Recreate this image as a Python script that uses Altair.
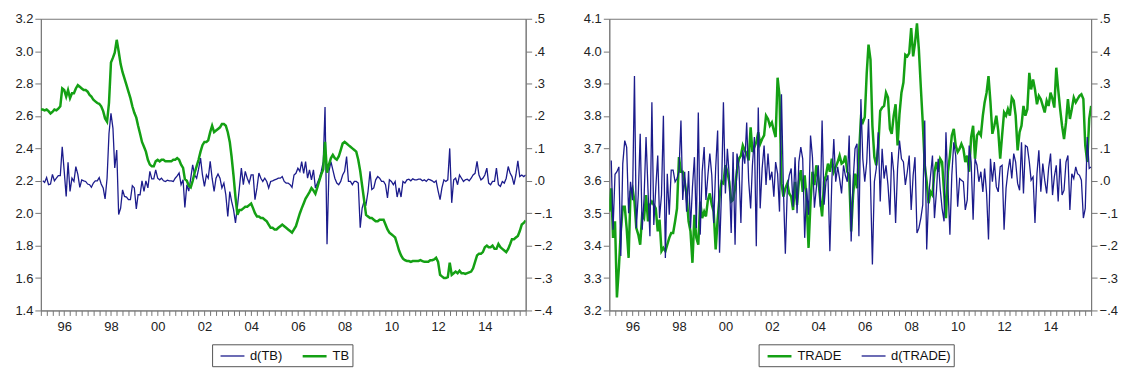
import altair as alt
import pandas as pd

# ---------------- data (monthly) ----------------
START = "1995-01-01"

TB = [2.64, 2.64, 2.635, 2.64, 2.63, 2.615, 2.625, 2.64, 2.635, 2.645,
      2.66, 2.77, 2.76, 2.72, 2.76, 2.71, 2.74, 2.74, 2.77, 2.79,
      2.78, 2.77, 2.76, 2.76, 2.75, 2.73, 2.72, 2.70, 2.69, 2.68,
      2.675, 2.66, 2.63, 2.585, 2.565, 2.68, 2.93, 2.96, 2.99, 3.07,
      3.00, 2.92, 2.87, 2.83, 2.79, 2.75, 2.71, 2.66, 2.62, 2.59,
      2.54, 2.49, 2.44, 2.41, 2.38, 2.33, 2.30, 2.29, 2.29, 2.32,
      2.33, 2.32, 2.33, 2.33, 2.32, 2.32, 2.32, 2.32, 2.33, 2.33,
      2.34, 2.33, 2.30, 2.28, 2.21, 2.20, 2.17, 2.16, 2.20, 2.25,
      2.29, 2.33, 2.38, 2.42, 2.44, 2.44, 2.45, 2.50, 2.54, 2.50,
      2.51, 2.52, 2.53, 2.55, 2.55, 2.54, 2.50, 2.44, 2.35, 2.23,
      2.10, 1.99, 2.02, 2.02, 2.03, 2.04, 2.04, 2.05, 2.06, 2.03,
      2.00, 1.98, 1.98, 1.97, 1.97, 1.96, 1.95, 1.93, 1.91, 1.91,
      1.90, 1.90, 1.91, 1.92, 1.93, 1.92, 1.91, 1.90, 1.89, 1.88,
      1.90, 1.92, 1.96, 2.00, 2.03, 2.06, 2.09, 2.11, 2.13, 2.155,
      2.14, 2.12, 2.16, 2.20, 2.24, 2.27, 2.44, 2.25, 2.30, 2.34,
      2.36, 2.34, 2.33, 2.35, 2.39, 2.43, 2.44, 2.43, 2.42, 2.41,
      2.40, 2.39, 2.38, 2.33, 2.26, 2.17, 2.08, 1.99, 1.98, 1.97,
      1.97, 1.96, 1.95, 1.95, 1.96, 1.96, 1.96, 1.93, 1.90, 1.88,
      1.87, 1.86, 1.85, 1.81, 1.77, 1.74, 1.72, 1.71, 1.705, 1.705,
      1.70, 1.705, 1.705, 1.705, 1.705, 1.71, 1.705, 1.70, 1.70, 1.70,
      1.71, 1.71, 1.715, 1.725, 1.70, 1.62, 1.61, 1.60, 1.60, 1.605,
      1.695, 1.62, 1.63, 1.64, 1.63, 1.645, 1.63, 1.63, 1.625, 1.63,
      1.635, 1.64, 1.66, 1.70, 1.74, 1.75, 1.75, 1.76, 1.79, 1.80,
      1.79, 1.79, 1.80, 1.78, 1.78, 1.81, 1.79, 1.78, 1.77, 1.76,
      1.78, 1.81, 1.84, 1.84, 1.85, 1.86, 1.89, 1.93, 1.94, 1.955]

D_TB = [0.0, -0.005, 0.01, -0.012, -0.01, 0.02, 0.0, 0.008, 0.016, 0.016,
        0.105, 0.03, -0.048, 0.057, -0.033, 0.008, -0.002, 0.044, 0.02, -0.02,
        0.003, 0.0, -0.002, -0.01, -0.012, -0.02, -0.007, 0.0, 0.0, 0.01,
        -0.01, -0.022, -0.056, 0.008, 0.146, 0.208, 0.162, 0.04, 0.095, -0.104,
        -0.084, -0.028, -0.048, -0.05, -0.058, -0.058, -0.015, -0.022, -0.087, -0.043,
        -0.043, 0.0, -0.033, 0.0, -0.022, 0.029, 0.006, 0.006, 0.034, 0.008,
        0.003, 0.008, 0.0, -0.002, 0.002, 0.0, 0.0, -0.002, 0.008, 0.015,
        0.024, -0.012, 0.003, -0.082, -0.012, -0.032, 0.008, 0.049, 0.018, 0.008,
        0.036, 0.07, 0.018, -0.017, 0.018, 0.008, 0.06, 0.008, -0.033, 0.008,
        0.021, 0.008, -0.022, -0.007, -0.043, -0.11, -0.033, -0.063, -0.089, -0.13,
        -0.079, -0.022, 0.039, -0.012, 0.029, 0.008, -0.007, 0.018, 0.018, -0.058,
        -0.022, 0.024, 0.008, -0.002, 0.008, -0.002, -0.022, -0.002, 0.0, 0.003,
        0.005, 0.008, 0.008, 0.013, -0.002, -0.007, -0.007, -0.012, -0.02, 0.018,
        0.023, 0.039, 0.029, 0.059, 0.023, 0.059, 0.008, 0.034, 0.003, 0.034,
        -0.022, -0.007, 0.008, 0.029, 0.059, 0.228, -0.196, 0.029, 0.059, 0.034,
        0.008, -0.007, -0.012, -0.002, 0.018, 0.029, 0.075, -0.002, -0.002, -0.012,
        -0.002, -0.002, -0.007, -0.145, -0.084, -0.063, -0.073, -0.033, 0.029, -0.027,
        -0.022, 0.003, 0.013, 0.008, -0.002, -0.002, -0.012, -0.053, 0.003, -0.002,
        -0.012, -0.002, -0.05, -0.022, -0.05, -0.002, -0.007, 0.003, 0.005, 0.0,
        0.006, 0.003, 0.003, 0.005, 0.005, 0.0, 0.003, -0.002, 0.005, 0.003,
        0.0, -0.005, 0.0, -0.031, -0.058, -0.022, 0.003, -0.002, 0.003, 0.1,
        -0.068, 0.003, 0.008, -0.012, 0.018, 0.008, -0.002, 0.003, 0.005, 0.0,
        0.008, 0.018, 0.023, 0.06, 0.018, 0.003, 0.008, 0.018, 0.039, -0.007,
        -0.012, -0.002, -0.002, 0.039, -0.012, -0.017, -0.002, -0.007, 0.008, 0.044,
        0.023, 0.013, -0.012, 0.018, 0.062, 0.013, 0.018, 0.013, 0.018]

TRADE = [3.505, 3.577, 3.424, 3.475, 3.24, 3.332, 3.444, 3.52, 3.52, 3.454,
         3.362, 3.566, 3.577, 3.536, 3.454, 3.434, 3.403, 3.495, 3.485, 3.556,
         3.475, 3.526, 3.536, 3.526, 3.515, 3.444, 3.48, 3.383, 3.393, 3.383,
         3.403, 3.424, 3.439, 3.439, 3.475, 3.515, 3.673, 3.628, 3.628, 3.597,
         3.556, 3.475, 3.444, 3.347, 3.495, 3.424, 3.403, 3.536, 3.485, 3.505,
         3.49, 3.541, 3.561, 3.526, 3.505, 3.388, 3.48, 3.551, 3.597, 3.592,
         3.648, 3.628, 3.597, 3.536, 3.541, 3.577, 3.633, 3.668, 3.678, 3.709,
         3.694, 3.684, 3.663, 3.765, 3.689, 3.704, 3.719, 3.75, 3.714, 3.729,
         3.74, 3.801, 3.791, 3.77, 3.78, 3.755, 3.735, 3.918, 3.862, 3.592,
         3.551, 3.577, 3.592, 3.561, 3.551, 3.51, 3.597, 3.526, 3.597, 3.633,
         3.566, 3.617, 3.541, 3.393, 3.536, 3.628, 3.587, 3.648, 3.607, 3.541,
         3.49, 3.597, 3.617, 3.653, 3.628, 3.668, 3.628, 3.643, 3.658, 3.678,
         3.653, 3.658, 3.678, 3.628, 3.617, 3.444, 3.556, 3.622, 3.577, 3.678,
         3.791, 3.78, 3.796, 3.933, 4.02, 3.974, 3.77, 3.673, 3.648, 3.704,
         3.816, 3.826, 3.831, 3.872, 3.857, 3.76, 3.745, 3.801, 3.836, 3.709,
         3.806, 3.872, 3.903, 3.989, 3.984, 3.994, 4.071, 3.984, 4.025, 4.086,
         4.005, 3.887, 3.78, 3.648, 3.597, 3.531, 3.566, 3.556, 3.628, 3.658,
         3.628, 3.668, 3.658, 3.566, 3.485, 3.628, 3.678, 3.74, 3.76, 3.709,
         3.689, 3.699, 3.714, 3.699, 3.658, 3.678, 3.628, 3.735, 3.77, 3.668,
         3.74, 3.75, 3.74, 3.801, 3.842, 3.872, 3.923, 3.842, 3.745, 3.77,
         3.801, 3.755, 3.668, 3.74, 3.811, 3.801, 3.821, 3.801, 3.857, 3.847,
         3.801, 3.694, 3.75, 3.77, 3.831, 3.801, 3.821, 3.933, 3.882, 3.913,
         3.882, 3.836, 3.862, 3.852, 3.831, 3.811, 3.847, 3.831, 3.872, 3.852,
         3.826, 3.949, 3.882, 3.821, 3.77, 3.729, 3.78, 3.852, 3.791, 3.821,
         3.857, 3.842, 3.852, 3.862, 3.867, 3.852, 3.709, 3.658, 3.791, 3.831]

D_TRADE = [0.063, -0.151, 0.02, 0.028, 0.043, -0.232, 0.053, 0.124, 0.104, -0.1,
           -0.003, -0.06, 0.323, -0.146, -0.044, 0.145, -0.151, -0.054, 0.135, -0.03,
           -0.171, 0.242, -0.136, -0.023, 0.078, -0.115, -0.044, 0.201, -0.238, 0.022,
           -0.105, 0.033, 0.033, -0.003, 0.007, 0.028, 0.186, -0.059, 0.028, -0.095,
           0.03, -0.146, -0.02, 0.073, -0.146, 0.211, -0.166, 0.028, 0.104, -0.059,
           0.017, 0.084, 0.017, -0.13, 0.038, 0.155, -0.222, -0.034, 0.242, -0.039,
           0.099, 0.017, -0.161, 0.089, -0.197, 0.084, 0.043, -0.13, 0.094, 0.053,
           0.18, 0.0, -0.085, 0.048, 0.135, -0.202, 0.226, -0.085, 0.038, 0.109,
           -0.013, 0.084, 0.002, 0.028, -0.049, 0.058, 0.022, -0.095, 0.267, -0.023,
           -0.225, -0.023, 0.017, 0.038, -0.08, 0.073, -0.1, 0.058, 0.104, 0.068,
           -0.176, -0.023, -0.105, 0.14, 0.073, -0.083, -0.023, 0.048, -0.08, 0.186,
           -0.074, -0.003, 0.017, -0.217, 0.002, 0.129, -0.003, 0.043, 0.007, -0.039,
           0.048, 0.017, -0.003, 0.14, -0.187, -0.003, 0.099, 0.114, -0.171, 0.252,
           0.068, -0.003, 0.058, 0.191, -0.003, -0.258, -0.003, 0.038, 0.15, -0.064,
           0.099, 0.007, 0.048, -0.013, -0.105, 0.089, 0.028, -0.13, 0.038, 0.124,
           0.068, 0.058, -0.013, 0.028, 0.078, -0.09, 0.017, 0.073, -0.161, -0.146,
           -0.115, -0.074, 0.186, -0.212, -0.049, 0.017, 0.078, -0.115, -0.034, 0.068,
           -0.023, -0.085, -0.125, 0.15, -0.018, -0.166, 0.017, 0.119, 0.078, -0.08,
           0.007, 0.002, -0.003, -0.09, -0.059, 0.109, 0.058, -0.12, 0.068, 0.048,
           -0.003, 0.028, -0.034, 0.038, -0.039, -0.181, 0.068, -0.003, 0.058, -0.018,
           -0.034, 0.043, 0.048, -0.151, -0.023, 0.028, 0.068, 0.007, 0.084, 0.058,
           -0.008, -0.029, 0.119, -0.039, 0.109, 0.104, 0.058, 0.002, 0.012, -0.13,
           0.022, 0.094, -0.034, 0.053, 0.002, -0.039, 0.038, 0.084, -0.044, 0.012,
           0.048, -0.064, 0.068, -0.044, -0.029, 0.058, 0.078, -0.09, 0.022, 0.007,
           0.043, 0.022, 0.017, 0.002, -0.115, -0.085, 0.135, 0.038, 0.043]

LEFT_TICKS_TB = [1.4, 1.6, 1.8, 2.0, 2.2, 2.4, 2.6, 2.8, 3.0, 3.2]
LEFT_TICKS_TRADE = [3.2, 3.3, 3.4, 3.5, 3.6, 3.7, 3.8, 3.9, 4.0, 4.1]
RIGHT_TICKS = [-0.4, -0.3, -0.2, -0.1, 0.0, 0.1, 0.2, 0.3, 0.4, 0.5]

GREEN = "#14a014"
BLUE = "#1c1c8c"
FONT = "Liberation Sans"


def frame(values, name, start):
    return pd.DataFrame({
        "date": pd.date_range(start, periods=len(values), freq="MS"),
        "value": values,
        "series": name,
    })


x_ticks = [alt.DateTime(year=y, month=m, date=1)
           for y in range(1995, 2016) for m in (1, 4, 7, 10)]
x_enc = alt.X(
    "date:T",
    scale=alt.Scale(domain=[alt.DateTime(year=1995, month=1, date=1),
                            alt.DateTime(year=2015, month=10, date=1)]),
    axis=alt.Axis(values=x_ticks, title=None, tickSize=5, labelPadding=5,
                  labelOverlap=False, grid=False,
                  labelExpr="month(datum.value) == 0 && year(datum.value) % 2 == 0 ? timeFormat(datum.value, '%y') : ''"),
)


def panel(level, level_name, level_dom, level_ticks, diff, diff_name, order,
          width, height, lx, ly):
    legend = alt.Legend(orient="none", legendX=lx, legendY=ly, direction="horizontal",
                        title=None, symbolType="M-1.6,0H1.6", symbolSize=225,
                        labelFontSize=13, labelFont=FONT, labelColor="#111",
                        labelOffset=9, symbolOffset=9,
                        strokeColor="#555", padding=3, columnPadding=14)
    colors = [GREEN if s == level_name else BLUE for s in order]
    widths = [2.5 if s == level_name else 1.3 for s in order]
    color = alt.Color("series:N", scale=alt.Scale(domain=order, range=colors), legend=legend)
    sw = alt.StrokeWidth("series:N", scale=alt.Scale(domain=order, range=widths), legend=legend)

    lvl = alt.Chart(frame(level, level_name, START)).mark_line(clip=True).encode(
        x=x_enc,
        y=alt.Y("value:Q", scale=alt.Scale(domain=level_dom, nice=False, zero=False),
                axis=alt.Axis(orient="left", values=level_ticks, format=".1f",
                              title=None, tickSize=6, labelPadding=2, grid=False)),
        color=color, strokeWidth=sw,
    )
    dif = alt.Chart(frame(diff, diff_name, "1995-02-01")).mark_line(clip=True).encode(
        x=x_enc,
        y=alt.Y("value:Q", scale=alt.Scale(domain=[-0.4, 0.5], nice=False, zero=False),
                axis=alt.Axis(orient="right", values=RIGHT_TICKS, title=None,
                              tickSize=6, labelPadding=2, grid=False,
                              labelExpr="replace(format(datum.value, '.1f'), '0.', '.')")),
        color=color, strokeWidth=sw,
    )
    layers = [dif, lvl] if order[0] == diff_name else [lvl, dif]
    return alt.layer(*layers).resolve_scale(y="independent").properties(
        width=width, height=height)


left = panel(TB, "TB", [1.4, 3.2], LEFT_TICKS_TB, D_TB, "d(TB)", ["d(TB)", "TB"],
             487, 293, 172, 327)
right = panel(TRADE, "TRADE", [3.2, 4.1], LEFT_TICKS_TRADE, D_TRADE, "d(TRADE)",
              ["TRADE", "d(TRADE)"], 484, 293, 150, 327)

chart = alt.hconcat(left, right, spacing=30).resolve_scale(
    color="independent", strokeWidth="independent"
).resolve_legend(
    color="independent", strokeWidth="independent"
).properties(
    padding={"left": 6, "top": 3, "right": 0, "bottom": 0}
).configure(font=FONT).configure_view(stroke="#777", strokeWidth=1).configure_axis(
    labelFont=FONT, labelFontSize=13, labelColor="#222",
    domainColor="#777", tickColor="#777",
)

chart.save("out.html", embed_options={"renderer": "svg", "actions": False})
